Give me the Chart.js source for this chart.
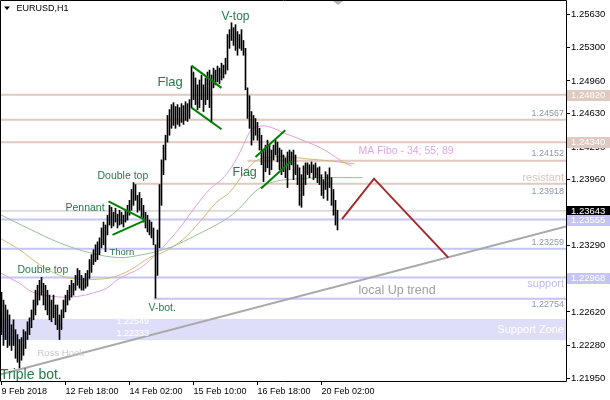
<!DOCTYPE html>
<html>
<head>
<meta charset="utf-8">
<script src="https://cdn.jsdelivr.net/npm/chart.js@4.4.1/dist/chart.umd.min.js"></script>
<style>
  html, body { margin: 0; padding: 0; background: #fff; }
</style>
</head>
<body>
<canvas id="c" width="610" height="400"></canvas>
<script>
// EURUSD H1 bars, one per hour
var highs = [
  1.2282,1.2274,1.2269,1.2264,1.2259,1.2249,1.2254,1.2244,1.2239,1.2234,
  1.2236,1.2244,1.2242,1.2252,1.2256,1.2264,1.2274,1.2284,1.2289,1.2294,
  1.2297,1.2291,1.2289,1.2284,1.2279,1.2274,1.2279,1.2269,1.2269,1.2259,
  1.2264,1.2274,1.2279,1.2284,1.2289,1.2294,1.2291,1.2299,1.2306,1.2304,
  1.2299,1.2296,1.2301,1.2304,1.2315,1.2320,1.2325,1.2330,1.2333,1.2337,
  1.2347,1.2353,1.2350,1.2360,1.2370,1.2368,1.2363,1.2367,1.2361,1.2365,
  1.2363,1.2360,1.2365,1.2370,1.2375,1.2386,1.2393,1.2391,1.2380,1.2383,
  1.2377,1.2370,1.2363,1.2360,1.2355,1.2353,1.2347,1.2330,1.2345,1.2391,
  1.2416,1.2431,1.2441,1.2461,1.2467,1.2472,1.2474,1.2470,1.2472,1.2469,
  1.2473,1.2471,1.2475,1.2473,1.2477,1.2511,1.2505,1.2499,1.2492,1.2497,
  1.2502,1.2492,1.2499,1.2505,1.2507,1.2502,1.2509,1.2507,1.2511,1.2509,
  1.2514,1.2512,1.2519,1.2543,1.2548,1.2555,1.2550,1.2553,1.2546,1.2543,
  1.2548,1.2537,1.2529,1.2489,1.2481,1.2465,1.2461,1.2458,1.2454,1.2448,
  1.2441,1.2426,1.2431,1.2436,1.2431,1.2426,1.2431,1.2436,1.2434,1.2428,
  1.2426,1.2421,1.2418,1.2424,1.2426,1.2424,1.2426,1.2421,1.2411,1.2408,
  1.2401,1.2410,1.2413,1.2413,1.2411,1.2414,1.2411,1.2413,1.2408,1.2409,
  1.2401,1.2396,1.2404,1.2401,1.2408,1.2398,1.2386,1.2375,1.2365
];
var lows = [
  1.2239,1.2228,1.2234,1.2226,1.2228,1.2223,1.2228,1.2215,1.2211,1.2205,
  1.2213,1.2218,1.2225,1.2234,1.2239,1.2246,1.2254,1.2259,1.2269,1.2274,
  1.2279,1.2269,1.2264,1.2259,1.2254,1.2252,1.2256,1.2249,1.2244,1.2234,
  1.2244,1.2256,1.2262,1.2269,1.2274,1.2277,1.2279,1.2284,1.2289,1.2286,
  1.2284,1.2284,1.2286,1.2288,1.2296,1.2302,1.2310,1.2313,1.2315,1.2320,
  1.2327,1.2330,1.2323,1.2340,1.2350,1.2347,1.2349,1.2353,1.2347,1.2350,
  1.2351,1.2348,1.2353,1.2355,1.2360,1.2365,1.2370,1.2375,1.2363,1.2365,
  1.2357,1.2353,1.2347,1.2343,1.2340,1.2337,1.2330,1.2276,1.2299,1.2327,
  1.2370,1.2401,1.2416,1.2434,1.2441,1.2448,1.2451,1.2448,1.2452,1.2450,
  1.2454,1.2452,1.2456,1.2455,1.2458,1.2469,1.2477,1.2472,1.2467,1.2469,
  1.2477,1.2465,1.2472,1.2477,1.2469,1.2454,1.2489,1.2492,1.2495,1.2493,
  1.2497,1.2499,1.2503,1.2507,1.2529,1.2537,1.2532,1.2527,1.2522,1.2529,
  1.2527,1.2522,1.2487,1.2458,1.2448,1.2431,1.2436,1.2441,1.2436,1.2426,
  1.2411,1.2394,1.2404,1.2408,1.2401,1.2406,1.2416,1.2421,1.2414,1.2406,
  1.2401,1.2404,1.2398,1.2388,1.2406,1.2411,1.2396,1.2401,1.2391,1.2370,
  1.2368,1.2380,1.2391,1.2401,1.2398,1.2403,1.2396,1.2398,1.2393,1.2391,
  1.2380,1.2377,1.2386,1.2375,1.2388,1.2370,1.2360,1.2350,1.2345
];

// moving averages 34 / 55 / 89 : [bar, price]
var ma34 = [[-1,1.2302],[9,1.2291],[15.5,1.2282],[24,1.2278],[32.5,1.2277],[39,1.2278],[45.5,1.2281],
  [52.5,1.2286],[59,1.2296],[69,1.2306],[75.5,1.2317],[87.5,1.2343],[97.5,1.2370],[104,1.2386],
  [111.5,1.2399],[118,1.2419],[124,1.2444],[126.5,1.2449],[133,1.2450],[141.5,1.2443],[153,1.2434],
  [161.5,1.2426],[171.5,1.2413],[175,1.2410]];
var ma55 = [[-1,1.2337],[9,1.2325],[19,1.2310],[29,1.2299],[39,1.2295],[47.5,1.2295],[55.5,1.2297],
  [64,1.2304],[74,1.2317],[81.5,1.2323],[90.5,1.2335],[99,1.2353],[107.5,1.2373],[114,1.2383],
  [121.5,1.2403],[128,1.2416],[136.5,1.2419],[144,1.2419],[153,1.2417],[164,1.2415],[176.5,1.2412]];
var ma89 = [[-1,1.2361],[14,1.2346],[29,1.2332],[44,1.2322],[59,1.2317],[70.5,1.2320],[79,1.2324],
  [87.5,1.2330],[100.5,1.2343],[111.5,1.2355],[119,1.2367],[128,1.2386],[136.5,1.2394],[149,1.2397],
  [161.5,1.2398],[180.5,1.2398]];

// horizontal levels and the bar where each one starts
var levels    = [1.24820, 1.24567, 1.24340, 1.24152, 1.23918, 1.23555, 1.23259, 1.22968, 1.22754];
var levelFrom = [-1, -1, -1, 123, 66, -1, -1, -1, 76];
var lastPrice = 1.23643;
var supportZone = [1.22333, 1.22549];

// drawn patterns: [bar, price] points
var pennant1 = [[53.5,1.2374],[72,1.2355]];
var pennant2 = [[55.5,1.2340],[72,1.2355]];
var flagA1 = [[95,1.25115],[110,1.2489]];
var flagA2 = [[95,1.2469],[110,1.2447]];
var flagB1 = [[127,1.2419],[141.9,1.2446]];
var flagB2 = [[129.75,1.2387],[144.9,1.2415]];
var forecast = [[170.25,1.2356],[186.25,1.2397],[223.4,1.2317]];
var upTrend = [[-0.75,1.21985],[282.25,1.23485]];

var yTicks = [1.25630,1.25300,1.24960,1.24630,1.24290,1.23960,1.23620,1.23290,1.22950,1.22620,1.22280,1.21950];
var xTickBars = [0, 32, 64, 96, 128, 160];
var xTickLabels = ['9 Feb 2018', '12 Feb 18:00', '14 Feb 02:00', '15 Feb 10:00', '16 Feb 18:00', '20 Feb 02:00'];

var FONT = "'Liberation Sans', Arial, sans-serif";
var PINK = '#dfc9c1', LAV = '#c5c5f5', GREEN_TXT = '#267a4a';

function pts(arr) { return arr.map(function (p) { return { x: p[0], y: p[1] }; }); }
function seg(arr, color, w, order) {
  return { type: 'line', data: pts(arr), borderColor: color, borderWidth: w, pointRadius: 0,
    tension: 0, order: order, fill: false };
}

var datasets = [];
datasets.push({
  type: 'bar',
  data: highs.map(function (h, i) { return { x: i, y: [lows[i], h] }; }),
  backgroundColor: '#000', borderWidth: 0, barThickness: 1, grouped: false, order: 3
});
levels.forEach(function (p, i) {
  datasets.push(seg([[levelFrom[i], p], [282.25, p]], i < 5 ? PINK : LAV, 2, 10));
});
datasets.push(seg([[-1, lastPrice], [282.25, lastPrice]], '#c0c0c0', 1, 9));
[[ma34, '#dda0dd'], [ma55, '#c9bb76'], [ma89, '#94c294']].forEach(function (m) {
  var d = seg(m[0], m[1], 1, 5);
  d.tension = 0.35;
  datasets.push(d);
});
datasets.push(seg(upTrend, '#a9a9a9', 2, 2));
[pennant1, pennant2, flagA1, flagA2, flagB1, flagB2].forEach(function (a) {
  datasets.push(seg(a, '#008000', 2, 1));
});
datasets.push(seg(forecast, '#a52a2a', 2, 1));

// text objects on the chart: [text, bar, price, size, color, align]
var notes = [
  ['V-top', 117, 1.2561, 12, GREEN_TXT, 'center'],
  ['Flag', 78, 1.2495, 13, GREEN_TXT, 'left'],
  ['Flag', 115.5, 1.2403, 12.5, GREEN_TXT, 'left'],
  ['Double top', 48, 1.2400, 10.5, GREEN_TXT, 'left'],
  ['Pennant', 32, 1.2367, 10.5, GREEN_TXT, 'left'],
  ['Thorn', 54, 1.2322, 9.5, GREEN_TXT, 'left'],
  ['Double top', 8, 1.2304, 10.5, GREEN_TXT, 'left'],
  ['V-bot.', 73.5, 1.2266, 10.5, GREEN_TXT, 'left'],
  ['Ross Hook', 18, 1.2220, 9.5, '#c8c8c8', 'left'],
  ['Triple bot.', -0.75, 1.2198, 14, GREEN_TXT, 'left'],
  ['MA Fibo - 34; 55; 89', 178.5, 1.2425, 10.5, '#e0a6e0', 'left'],
  ['local Up trend', 178.5, 1.2284, 12.5, '#a0a0a0', 'left'],
  ['1.22549', 57.5, 1.2252, 9, '#ffffff', 'left'],
  ['1.22333', 57.5, 1.2240, 9, '#ffffff', 'left']
];
// texts at the right edge next to a level: [text, price, pixel shift, size, color]
var edgeNotes = [
  ['1.24567', 1.24567, -6.5, 9, '#8d99a8'],
  ['1.24152', 1.24152, -7.5, 9, '#8d99a8'],
  ['resistant', 1.23918, -6, 11, '#dcc4b8'],
  ['1.23918', 1.23918, 7.5, 9, '#8d99a8'],
  ['1.23259', 1.23259, -6.5, 9, '#8d99a8'],
  ['support', 1.22754, -14.5, 11, '#bcbcf0'],
  ['1.22754', 1.22754, 5.5, 9, '#8d99a8']
];
// price boxes on the axis: [price, background]
var axisBoxes = [[1.24820, PINK], [1.24340, PINK], [lastPrice, '#000000'], [1.23555, LAV], [1.22968, LAV]];

var overlay = {
  id: 'overlay',
  beforeDatasetsDraw: function (chart) {
    var ctx = chart.ctx, a = chart.chartArea, ys = chart.scales.y;
    var t = ys.getPixelForValue(supportZone[1]), b = ys.getPixelForValue(supportZone[0]);
    ctx.save();
    ctx.fillStyle = '#dedef9';
    ctx.fillRect(a.left, t, a.right - a.left, b - t);
    ctx.restore();
  },
  afterDraw: function (chart) {
    var ctx = chart.ctx, a = chart.chartArea, xs = chart.scales.x, ys = chart.scales.y;
    ctx.save();
    ctx.textBaseline = 'middle';
    notes.forEach(function (n) {
      ctx.font = n[3] + 'px ' + FONT;
      ctx.fillStyle = n[4];
      ctx.textAlign = n[5];
      ctx.fillText(n[0], xs.getPixelForValue(n[1]), ys.getPixelForValue(n[2]));
    });
    ctx.textAlign = 'right';
    edgeNotes.forEach(function (n) {
      ctx.font = n[3] + 'px ' + FONT;
      ctx.fillStyle = n[4];
      ctx.fillText(n[0], a.right - 2, ys.getPixelForValue(n[1]) + n[2]);
    });
    ctx.font = '11px ' + FONT;
    ctx.fillStyle = '#ffffff';
    ctx.fillText('Support Zone', a.right - 2,
      (ys.getPixelForValue(supportZone[0]) + ys.getPixelForValue(supportZone[1])) / 2);

    // axis price boxes
    ctx.textAlign = 'left';
    ctx.font = '9.5px ' + FONT;
    axisBoxes.forEach(function (b) {
      var yy = Math.round(ys.getPixelForValue(b[0]));
      ctx.fillStyle = b[1];
      ctx.fillRect(a.right + 1, yy - 5, 43, 11);
      ctx.fillStyle = '#ffffff';
      ctx.fillText(b[0].toFixed(5), a.right + 5, yy + 0.5);
    });

    // frame
    ctx.strokeStyle = '#000';
    ctx.lineWidth = 1;
    ctx.beginPath();
    ctx.moveTo(0.5, a.bottom + 0.5);
    ctx.lineTo(0.5, 0.5);
    ctx.lineTo(a.right + 0.5, 0.5);
    ctx.lineTo(a.right + 0.5, a.bottom + 0.5);
    ctx.lineTo(0.5, a.bottom + 0.5);
    ctx.stroke();

    // shift marker
    ctx.fillStyle = '#b4b4b4';
    ctx.beginPath();
    ctx.moveTo(333, 1); ctx.lineTo(343, 1); ctx.lineTo(338, 5); ctx.closePath();
    ctx.fill();

    // symbol title
    ctx.fillStyle = '#000';
    ctx.beginPath();
    ctx.moveTo(4, 6.5); ctx.lineTo(10, 6.5); ctx.lineTo(7, 10); ctx.closePath();
    ctx.fill();
    ctx.font = '9px ' + FONT;
    ctx.textAlign = 'left';
    ctx.fillText('EURUSD,H1', 16.5, 8.5);
    ctx.restore();
  }
};

new Chart(document.getElementById('c'), {
  type: 'bar',
  data: { datasets: datasets },
  options: {
    responsive: false,
    animation: false,
    devicePixelRatio: 1,
    layout: { padding: 0 },
    plugins: { legend: { display: false }, tooltip: { enabled: false } },
    scales: {
      x: {
        type: 'linear', min: -0.75, max: 282.25, offset: false,
        grid: { drawOnChartArea: false, drawTicks: true, tickLength: 4, color: '#000', offset: false },
        border: { display: false },
        afterBuildTicks: function (s) { s.ticks = xTickBars.map(function (v) { return { value: v }; }); },
        afterFit: function (s) { s.height = 19; s.paddingLeft = 0; s.paddingRight = 0; },
        ticks: {
          autoSkip: false, maxRotation: 0, align: 'start', padding: 1, color: '#000',
          font: { family: FONT, size: 9 },
          callback: function (v) { return xTickLabels[xTickBars.indexOf(v)]; }
        }
      },
      y: {
        position: 'right', min: 1.2192, max: 1.2578,
        grid: { drawOnChartArea: false, drawTicks: true, tickLength: 4, color: '#000' },
        border: { display: false },
        afterBuildTicks: function (s) { s.ticks = yTicks.map(function (v) { return { value: v }; }); },
        afterFit: function (s) { s.width = 44; s.paddingTop = 0; s.paddingBottom = 0; },
        ticks: {
          autoSkip: false, padding: 1, color: '#000',
          font: { family: FONT, size: 9.5 },
          callback: function (v) { return v.toFixed(5); }
        }
      }
    }
  },
  plugins: [overlay]
});
</script>
</body>
</html>
